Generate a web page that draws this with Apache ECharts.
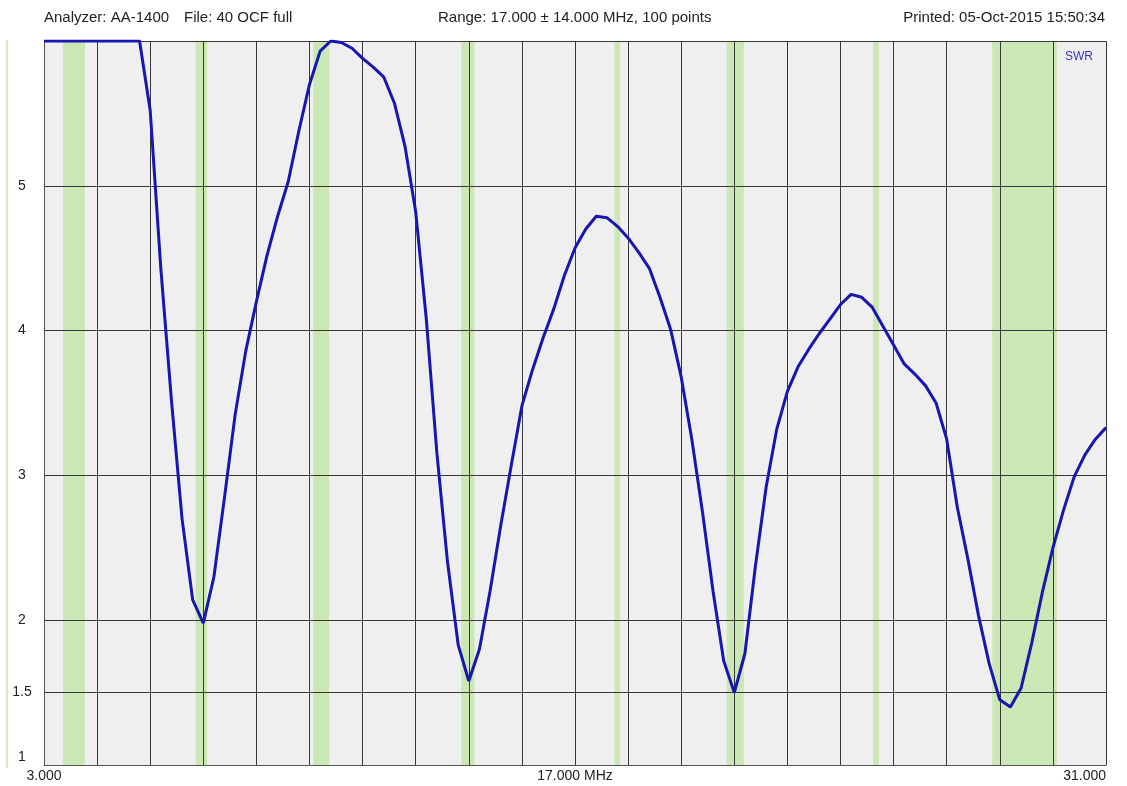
<!DOCTYPE html>
<html><head><meta charset="utf-8">
<script src="https://cdn.jsdelivr.net/npm/echarts@6/dist/echarts.min.js"></script>
<style>html,body{margin:0;padding:0;background:#fff}#chart{width:1127px;height:786px}</style>
</head><body><div id="chart"></div>
<script>
// ---- data ----
const START_MHZ = 3.0;
const STEP_MHZ = 0.28;   // 100 intervals over 28 MHz
const swr = [
  6, 6, 6, 6, 6, 6, 6, 6, 6, 6,
  5.52, 4.43, 3.52, 2.70, 2.14, 1.98, 2.30, 2.85, 3.42, 3.86,
  4.20, 4.52, 4.79, 5.03, 5.38, 5.70, 5.93, 6.00, 5.99, 5.95,
  5.88, 5.82, 5.75, 5.57, 5.27, 4.82, 4.08, 3.15, 2.40, 1.83,
  1.58, 1.80, 2.20, 2.65, 3.07, 3.48, 3.73, 3.95, 4.15, 4.38,
  4.57, 4.70, 4.79, 4.78, 4.72, 4.64, 4.54, 4.43, 4.23, 4.01,
  3.68, 3.25, 2.75, 2.20, 1.72, 1.50, 1.77, 2.38, 2.92, 3.32,
  3.58, 3.75, 3.87, 3.98, 4.08, 4.18, 4.25, 4.23, 4.16, 4.03,
  3.90, 3.77, 3.70, 3.62, 3.50, 3.25, 2.78, 2.42, 2.03, 1.70,
  1.45, 1.40, 1.53, 1.84, 2.19, 2.50, 2.76, 2.99, 3.14, 3.25,
  3.33
];
const bandStarts = [3.5, 7.0, 10.1, 14.0, 18.04, 21.0, 24.86, 28.0];
const bandEnds   = [4.08, 7.3, 10.52, 14.35, 18.19, 21.45, 25.01, 29.7];
const xMin = 3, xMax = 31, xStep = 1.4;
const xLabelValues = [3, 17, 31];
const xLabelTexts = ['3.000', '17.000 MHz', '31.000'];
const yMin = 1, yMax = 6, yStep = 0.5;
const yLabelValues = [1, 1.5, 2, 3, 4, 5];
const yGridValues = [1.5, 2, 3, 4, 5, 6];

// ---- chart ----
const FONT = 'Liberation Sans, Arial, sans-serif';
const GRID_COLOR = '#383838';
const chart = echarts.init(document.getElementById('chart'), null, {renderer: 'canvas'});

const seriesData = swr.map((v, i) => [START_MHZ + i * STEP_MHZ, v]);
const bandData = bandStarts.map((s, i) => [s, bandEnds[i]]);

const yTickCount = Math.round((yMax - yMin) / yStep) + 1;
const ySplitColors = [];
for (let k = 0; k < yTickCount; k++) {
  const v = yMin + k * yStep;
  ySplitColors.push(yGridValues.some(g => Math.abs(g - v) < 1e-6) ? GRID_COLOR : 'rgba(0,0,0,0)');
}

const titleStyle = {fontSize: 15, fontWeight: 'normal', color: '#222', fontFamily: FONT};

chart.setOption({
  animation: false,
  backgroundColor: '#ffffff',
  title: [
    {text: 'Analyzer: AA-1400', left: 44, top: 10, padding: 0, textStyle: titleStyle},
    {text: 'File: 40 OCF full', left: 184, top: 10, padding: 0, textStyle: titleStyle},
    {text: 'Range: 17.000 \u00b1 14.000 MHz, 100 points', left: 438, top: 10, padding: 0, textStyle: titleStyle},
    {text: 'Printed: 05-Oct-2015 15:50:34', right: 22, top: 10, padding: 0, textStyle: titleStyle}
  ],
  legend: {
    data: ['SWR'], icon: 'none', right: 34, top: 50, padding: 0,
    selectedMode: false,
    textStyle: {color: '#3434c8', fontSize: 12, fontFamily: FONT}
  },
  graphic: [{
    type: 'rect', shape: {x: 6, y: 40, width: 2, height: 728},
    style: {fill: '#d6ecc8'}, silent: true
  }],
  grid: {
    left: 44, right: 21, top: 41, bottom: 21,
    show: true, backgroundColor: '#efefef', borderWidth: 0
  },
  xAxis: {
    type: 'value', min: xMin, max: xMax, interval: xStep, z: 2,
    axisLine: {show: true, lineStyle: {color: '#555', width: 1}},
    axisTick: {show: false},
    splitLine: {show: true, lineStyle: {color: GRID_COLOR, width: 1}},
    axisLabel: {
      margin: 4, fontSize: 14, color: '#222', fontFamily: FONT,
      alignMaxLabel: 'right',
      formatter: (val) => {
        const k = xLabelValues.findIndex(x => Math.abs(x - val) < 1e-6);
        return k >= 0 ? xLabelTexts[k] : '';
      }
    }
  },
  yAxis: {
    type: 'value', min: yMin, max: yMax, interval: yStep, z: 2,
    axisLine: {show: true, lineStyle: {color: '#555', width: 1}},
    axisTick: {show: false},
    splitLine: {show: true, lineStyle: {color: ySplitColors, width: 1}},
    axisLabel: {
      margin: 22, align: 'center', fontSize: 14, color: '#222', fontFamily: FONT,
      formatter: (val) => {
        if (!yLabelValues.some(y => Math.abs(y - val) < 1e-6)) return '';
        if (Math.abs(val - yMin) < 1e-6) return '{low|' + val + '}';
        return String(val);
      },
      rich: {low: {fontSize: 14, color: '#222', fontFamily: FONT, padding: [0, 0, 16, 0]}}
    }
  },
  series: [
    {
      type: 'custom', name: 'bands', z: 1, silent: true,
      data: bandData,
      encode: {x: [0, 1]},
      renderItem: (params, api) => {
        const p0 = api.coord([api.value(0), yMax]);
        const p1 = api.coord([api.value(1), yMin]);
        return {
          type: 'rect',
          shape: {x: p0[0], y: p0[1], width: p1[0] - p0[0], height: p1[1] - p0[1]},
          style: {fill: '#cbe7b4'}
        };
      }
    },
    {
      type: 'line', name: 'SWR', z: 3,
      data: seriesData, showSymbol: false, symbol: 'none', smooth: false,
      lineStyle: {color: '#1616b0', width: 3},
      itemStyle: {color: '#1616b0'}
    }
  ]
});
</script>
</body></html>
